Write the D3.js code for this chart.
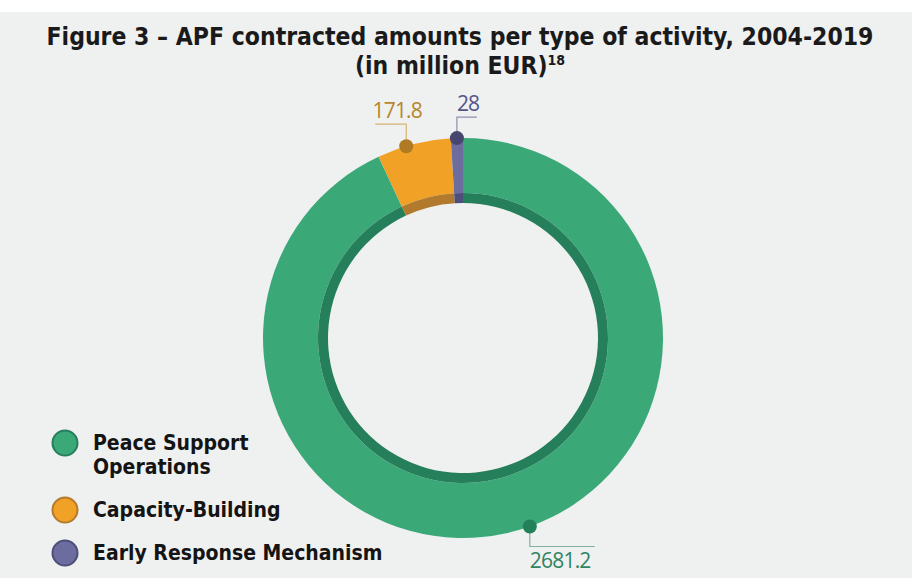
<!DOCTYPE html>
<html>
<head>
<meta charset="utf-8">
<script src="https://cdn.jsdelivr.net/npm/d3@7"></script>
<style>
  body { margin: 0; background: #fff; }
  svg { display: block; }
</style>
</head>
<body>
<div id="chart"></div>
<script>
/* APF contracted amounts per type of activity, donut chart */

const categories = ["Peace Support Operations", "Capacity-Building", "Early Response Mechanism"];
const values = [2681.2, 171.8, 28];
const valueLabels = ["2681.2", "171.8", "28"];
const legendLines = [["Peace Support", "Operations"], ["Capacity-Building"], ["Early Response Mechanism"]];

const width = 915, height = 578;
const cx = 463, cy = 338,
      outerR = 200, innerR = 145, holeR = 135;

const fills = ["#3ba878", "#f0a126", "#6c6c9e"];
const bands = ["#257f5b", "#b27a2c", "#4e4e7a"];
const dots = ["#22805a", "#b07a25", "#474670"];
const textCol = ["#2f8463", "#b8862c", "#55558a"];
const lineCol = ["#7fb39c", "#d6b36e", "#8e8eb2"];

const svg = d3.select("#chart")
    .append("svg")
    .attr("width", width)
    .attr("height", height);

/* grey panel */
svg.append("rect")
    .attr("x", 0).attr("y", 12)
    .attr("width", 912).attr("height", height - 12)
    .attr("fill", "#eff0f0");

/* title */
const title = svg.append("text")
    .attr("x", 460)
    .attr("text-anchor", "middle")
    .style("font-family", "'DejaVu Sans Condensed', 'DejaVu Sans'")
    .style("font-stretch", "condensed")
    .style("font-weight", "bold")
    .style("font-size", "24.5px")
    .attr("fill", "#1a1a1a");
title.append("tspan").attr("x", 460).attr("y", 45)
    .text("Figure 3 \u2013 APF contracted amounts per type of activity, 2004-2019");
title.append("tspan").attr("x", 460).attr("y", 74).text("(in million EUR)");
title.append("tspan").attr("dy", -9).style("font-size", "14px").text("18");

/* pie layout, clockwise from top, no sorting */
const pie = d3.pie().sort(null).value(d => d)
    .startAngle(0).endAngle(2 * Math.PI);
const arcs = pie(values);

const g = svg.append("g").attr("transform", `translate(${cx},${cy})`);

const ring = d3.arc().innerRadius(innerR).outerRadius(outerR);
const band = d3.arc().innerRadius(holeR).outerRadius(innerR);

g.selectAll(".slice")
    .data(arcs)
    .join("path")
    .attr("class", "slice")
    .attr("d", ring)
    .attr("fill", (d, i) => fills[i]);

g.selectAll(".band")
    .data(arcs)
    .join("path")
    .attr("class", "band")
    .attr("d", band)
    .attr("fill", (d, i) => bands[i]);

/* label anchors: fraction along each slice, and leader layout */
const anchorFrac = [0.479, 0.395, 0.5];
const leader = [
    { up: false, len: 20, dx: 65 },   // green: down then right
    { up: true, len: 22, dx: -31 },   // orange: up then left
    { up: true, len: 21, dx: 20 }     // purple: up then right
];

arcs.forEach((d, i) => {
    const a = d.startAngle + (d.endAngle - d.startAngle) * anchorFrac[i];
    const px = Math.sin(a) * outerR,
          py = -Math.cos(a) * outerR;
    const L = leader[i];
    const y2 = L.up ? py - L.len : py + L.len;

    g.append("path")
        .attr("d", `M${px},${py}V${y2}H${px + L.dx}`)
        .attr("fill", "none")
        .attr("stroke", lineCol[i])
        .attr("stroke-width", 1.2);

    g.append("circle")
        .attr("cx", px).attr("cy", py)
        .attr("r", 7)
        .attr("fill", dots[i]);

    let tx, anchor;
    if (i === 1) { tx = px - 9; anchor = "middle"; }
    else { tx = px; anchor = "start"; }

    g.append("text")
        .attr("x", tx)
        .attr("y", L.up ? y2 - 6 : y2 + 21)
        .attr("text-anchor", anchor)
        .style("font-family", "'Open Sans'")
        .style("font-weight", 400)
        .style("font-size", "21px")
        .style("letter-spacing", "-0.8px")
        .attr("fill", textCol[i])
        .text(valueLabels[i]);
});

/* legend */
const legendY = [443, 510, 553];
const legend = svg.selectAll(".legend")
    .data(categories)
    .join("g")
    .attr("class", "legend")
    .attr("transform", (d, i) => `translate(65,${legendY[i]})`);

legend.append("circle")
    .attr("r", 12.5)
    .attr("fill", (d, i) => fills[i])
    .attr("stroke", (d, i) => bands[i])
    .attr("stroke-width", 2);

legend.append("text")
    .attr("x", 28)
    .attr("y", 7)
    .style("font-family", "'DejaVu Sans Condensed', 'DejaVu Sans'")
    .style("font-stretch", "condensed")
    .style("font-weight", "bold")
    .style("font-size", "21px")
    .attr("fill", "#141414")
    .selectAll("tspan")
    .data((d, i) => legendLines[i])
    .join("tspan")
    .attr("x", 28)
    .attr("dy", (d, j) => j === 0 ? 0 : 24)
    .text(d => d);
</script>
</body>
</html>
